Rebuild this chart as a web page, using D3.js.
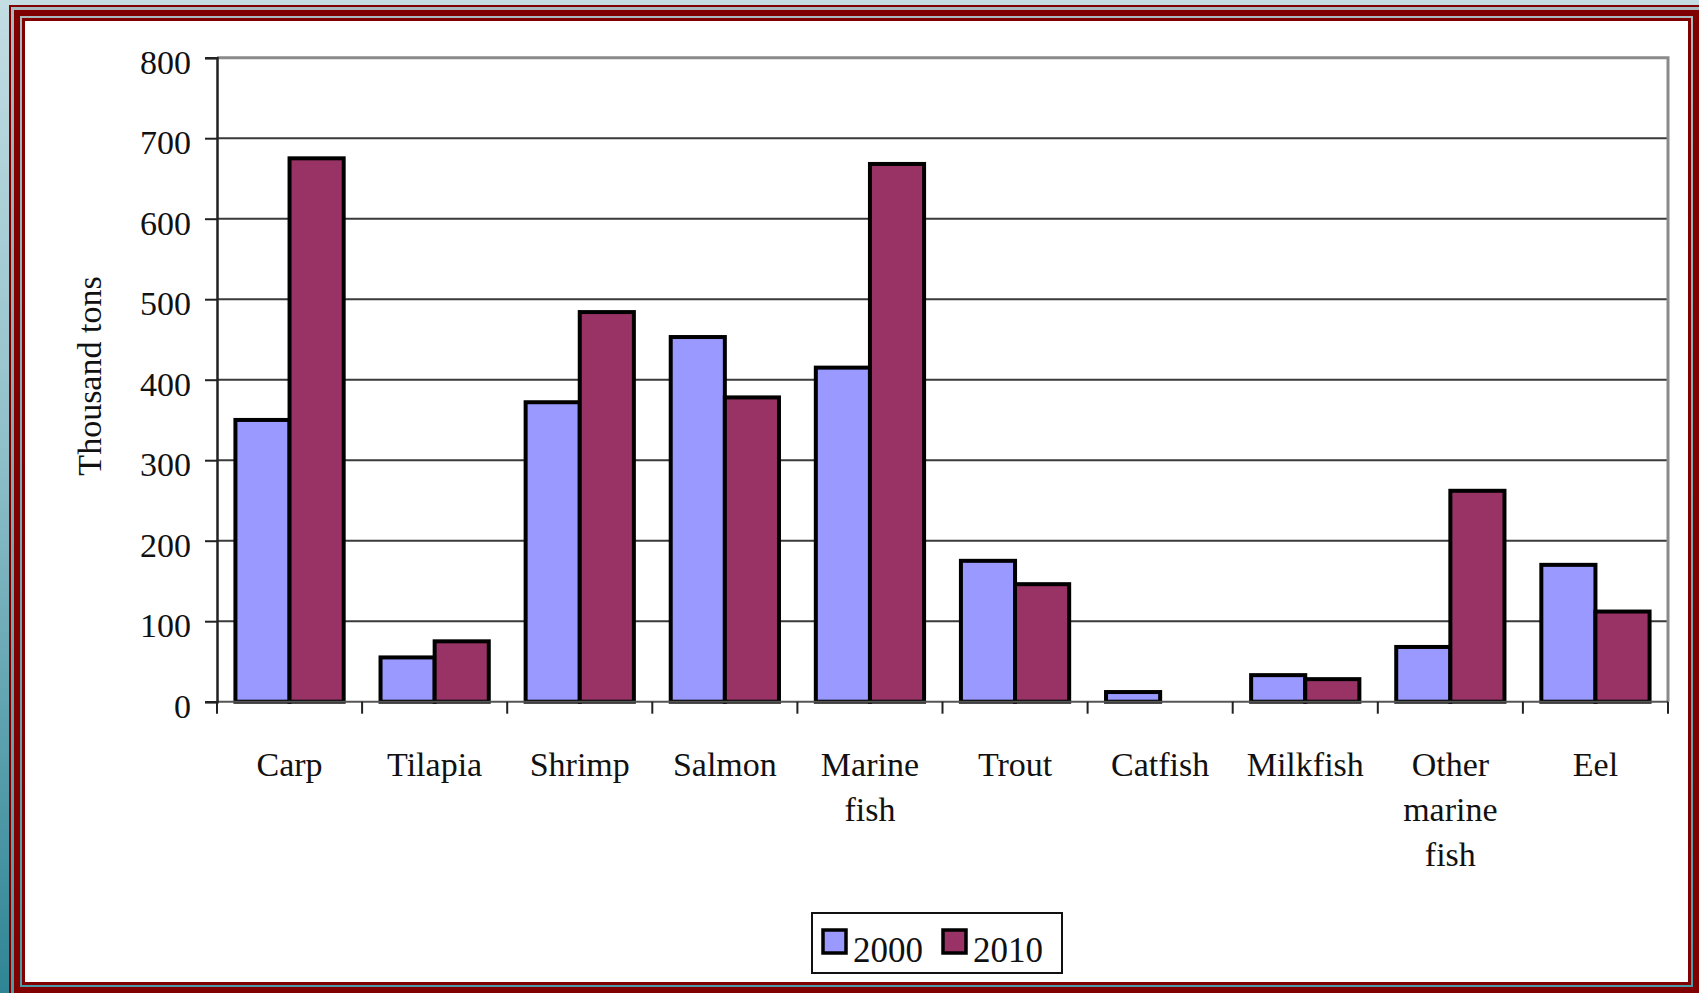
<!DOCTYPE html>
<html>
<head>
<meta charset="utf-8">
<script src="https://cdn.jsdelivr.net/npm/d3@7"></script>
<style>
  body { margin: 0; padding: 0; overflow: hidden; }
  svg { display: block; }
  text { font-family: "Liberation Serif", "Times New Roman", serif; fill: #111; }
</style>
</head>
<body>
<svg id="chart"></svg>
<script>
// data
var categories = ["Carp", "Tilapia", "Shrimp", "Salmon", "Marine fish", "Trout", "Catfish", "Milkfish", "Other marine fish", "Eel"];
var catLines = [["Carp"], ["Tilapia"], ["Shrimp"], ["Salmon"], ["Marine", "fish"], ["Trout"], ["Catfish"], ["Milkfish"], ["Other", "marine", "fish"], ["Eel"]];
var years = ["2000", "2010"];
var values2000 = [350, 55, 372, 453, 415, 175, 12, 33, 68, 170];
var values2010 = [675, 75, 484, 378, 668, 146, 0, 28, 262, 112];
var yTicks = [0, 100, 200, 300, 400, 500, 600, 700, 800];
var colors = { "2000": "#9999ff", "2010": "#993366" };

var width = 1699, height = 993;
var svg = d3.select("#chart").attr("width", width).attr("height", height);

// background + frame
var defs = svg.append("defs");
var bg = defs.append("linearGradient").attr("id", "bg").attr("x1", 0).attr("y1", 0).attr("x2", 0).attr("y2", 1);
bg.append("stop").attr("offset", "0%").attr("stop-color", "#c3dde3");
bg.append("stop").attr("offset", "45%").attr("stop-color", "#8fc0ca");
bg.append("stop").attr("offset", "100%").attr("stop-color", "#2f8595");
var stripe = defs.append("linearGradient").attr("id", "stripe").attr("x1", 0).attr("y1", 0).attr("x2", 0).attr("y2", 1);
stripe.append("stop").attr("offset", "0%").attr("stop-color", "#a9b9c0");
stripe.append("stop").attr("offset", "100%").attr("stop-color", "#4a9aa8");

svg.append("rect").attr("width", width).attr("height", height).attr("fill", "url(#bg)");

// nested frame layers: inset from outer edge (9,5)-(1704,998)
var frame = [[0, "#800000"], [2, "url(#stripe)"], [5, "#800000"], [11, "url(#stripe)"], [13, "#800000"], [16, "#ffffff"]];
svg.append("g").selectAll("rect")
    .data(frame)
    .enter()
    .append("rect")
    .attr("x", function (d) { return 9 + d[0]; })
    .attr("y", function (d) { return 5 + d[0]; })
    .attr("width", function (d) { return 1695 - 2 * d[0]; })
    .attr("height", function (d) { return 993 - 2 * d[0]; })
    .attr("fill", function (d) { return d[1]; });

// plot area
var plotL = 217, plotR = 1668, plotT = 57.7, plotB = 701.7;

var x0 = d3.scaleBand().domain(categories).range([plotL, plotR]).padding(0);
var bw = x0.bandwidth();
var x1 = d3.scaleBand().domain(years).range([bw * 0.127, bw * 0.873]).padding(0);
var y = d3.scaleLinear().domain([0, 800]).range([plotB, plotT]);

// gridlines
svg.append("g")
    .selectAll("line")
    .data(yTicks.filter(function (d) { return d > 0 && d < 800; }))
    .enter()
    .append("line")
    .attr("x1", plotL).attr("x2", plotR)
    .attr("y1", function (d) { return y(d); })
    .attr("y2", function (d) { return y(d); })
    .style("stroke", "#3a3a3a")
    .style("stroke-width", 2);

// plot area border (top + right) in gray
svg.append("path")
    .attr("d", "M" + plotL + "," + y(800) + "H" + plotR + "V" + y(0))
    .style("fill", "none")
    .style("stroke", "#8a8a8a")
    .style("stroke-width", 3);

// bars
var rows = categories.map(function (c, i) {
    return { cat: c, vals: [{ year: "2000", v: values2000[i] }, { year: "2010", v: values2010[i] }] };
});

var groups = svg.append("g")
    .selectAll("g")
    .data(rows)
    .enter()
    .append("g")
    .attr("transform", function (d) { return "translate(" + x0(d.cat) + ",0)"; });

groups.selectAll("rect")
    .data(function (d) { return d.vals.filter(function (e) { return e.v > 0; }); })
    .enter()
    .append("rect")
    .attr("x", function (d) { return x1(d.year); })
    .attr("y", function (d) { return y(d.v); })
    .attr("width", x1.bandwidth())
    .attr("height", function (d) { return y(0) - y(d.v); })
    .style("fill", function (d) { return colors[d.year]; })
    .style("stroke", "#000")
    .style("stroke-width", 4);

// x axis baseline
svg.append("line")
    .attr("x1", plotL).attr("x2", plotR)
    .attr("y1", y(0)).attr("y2", y(0))
    .style("stroke", "#555")
    .style("stroke-width", 2);

// y axis
var yAxis = d3.axisLeft(y).tickValues(yTicks).tickSize(12).tickPadding(14);
var gy = svg.append("g").attr("transform", "translate(" + plotL + ",0)").call(yAxis);
gy.select(".domain").style("stroke", "#222").style("stroke-width", 2.5);
gy.selectAll(".tick line").style("stroke", "#222").style("stroke-width", 2);
gy.selectAll(".tick text")
    .style("font-family", "'Liberation Serif', 'Times New Roman', serif")
    .style("font-size", "34px")
    .style("fill", "#111")
    .attr("dy", "0.45em");

// x axis ticks at group boundaries
var bounds = categories.map(function (c) { return x0(c); }).concat([plotR]);
svg.append("g")
    .selectAll("line")
    .data(bounds)
    .enter()
    .append("line")
    .attr("x1", function (d) { return d; })
    .attr("x2", function (d) { return d; })
    .attr("y1", y(0))
    .attr("y2", y(0) + 12)
    .style("stroke", "#222")
    .style("stroke-width", 2);

// category labels
var labels = svg.append("g")
    .selectAll("text")
    .data(catLines)
    .enter()
    .append("text")
    .attr("text-anchor", "middle")
    .style("font-size", "34px")
    .attr("transform", function (d, i) { return "translate(" + (x0(categories[i]) + bw / 2) + ",776)"; });

labels.selectAll("tspan")
    .data(function (d) { return d; })
    .enter()
    .append("tspan")
    .attr("x", 0)
    .attr("y", function (d, i) { return i * 45; })
    .text(function (d) { return d; });

// y title
svg.append("text")
    .attr("transform", "translate(101,376) rotate(-90)")
    .attr("text-anchor", "middle")
    .style("font-size", "34px")
    .text("Thousand tons");

// legend
var legend = svg.append("g");
legend.append("rect")
    .attr("x", 812).attr("y", 913)
    .attr("width", 250).attr("height", 60)
    .style("fill", "#fff")
    .style("stroke", "#111")
    .style("stroke-width", 2);

var items = legend.selectAll("g")
    .data(years)
    .enter()
    .append("g")
    .attr("transform", function (d, i) { return "translate(" + (823 + i * 120) + ",930)"; });

items.append("rect")
    .attr("width", 23).attr("height", 23)
    .style("fill", function (d) { return colors[d]; })
    .style("stroke", "#000")
    .style("stroke-width", 3.5);

items.append("text")
    .attr("x", 30).attr("y", 32)
    .style("font-size", "35px")
    .text(function (d) { return d; });
</script>
</body>
</html>
